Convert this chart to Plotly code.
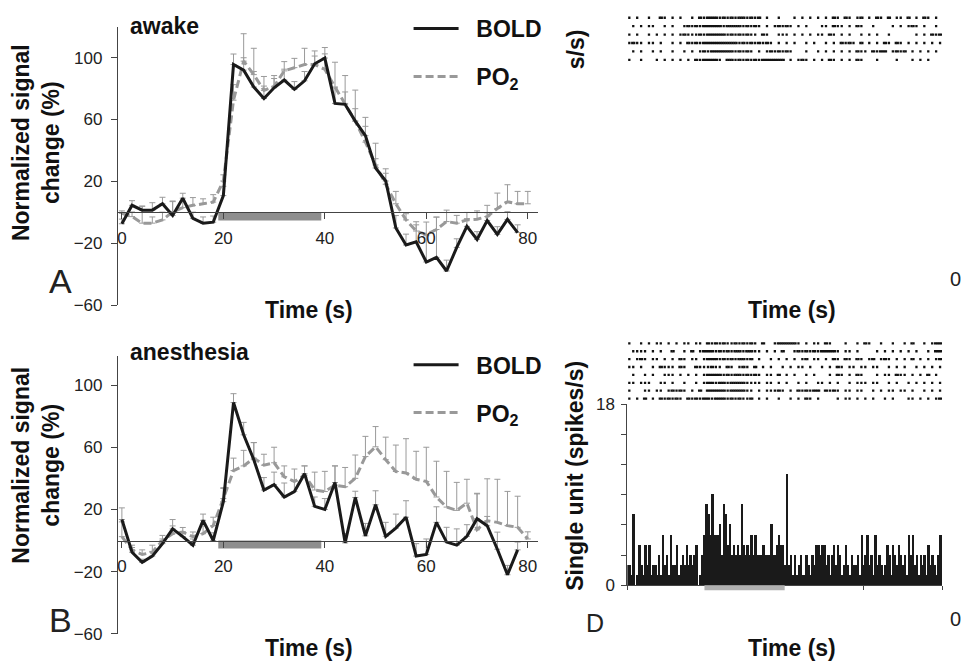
import plotly.graph_objects as go

W, H = 963, 672
FONT = "Liberation Sans"

# ---------------- data ----------------
t_bold = [0, 2, 4, 6, 8, 10, 12, 14, 16, 18, 20, 22, 24, 26, 28, 30, 32, 34, 36, 38,
          40, 42, 44, 46, 48, 50, 52, 54, 56, 58, 60, 62, 64, 66, 68, 70, 72, 74, 76, 78]
t_po2 = t_bold + [80]
tick_vals_time = [0, 20, 40, 60, 80]
tick_vals_signal = [-60, -20, 20, 60, 100]

bold_awake = [-7.3, 4.6, 1.5, 1.5, 5.6, -2, 9.2, -3.8, -6.9, -6.3,
              10.9, 95.5, 91.9, 81, 73.6, 80.5, 85.5, 79.5, 85, 96,
              99.7, 70.4, 69.8, 59, 49.6, 28.7, 20.3, -10, -21, -19,
              -32, -29, -37.8, -22.6, -9, -17.4, -5.2, -14.2, -4.5, -13]
bold_awake_err = [3, 3, 2.5, 4.8, 4.2, 9, 3.2, 4, 4, 4,
                  6, 6.8, 8, 10, 8, 6, 7, 5, 6, 5,
                  6.8, 10, 8, 8, 6, 6, 5, 8, 7, 11,
                  17, 26, 7, 5.6, 5, 5, 5, 5, 5, 5]
po2_awake = [-0.6, -2.7, -6.9, -6.9, -4.8, 0.4, 3.1, 4.6, 5.6, 6.7,
             20.3, 72.5, 97.7, 89, 78.8, 81.4, 91.4, 93.5, 95.5, 95.5,
             92.4, 81, 70.4, 59, 45.4, 30.7, 18.2, 5.6, -4.8, -12,
             -14.2, -11, -5.9, -6.9, -4.8, -4.4, -2.7, 2.5, 6.9, 5.6, 5.6]
po2_awake_err = [1.6, 3, 11, 4, 5, 7, 4, 5, 3.2, 4.8,
                 4, 10, 17.7, 17, 9, 7, 6, 6, 10.5, 8.8,
                 10, 16, 18, 20, 16, 14, 10, 8, 4, 6,
                 8, 8, 7.4, 5, 4.8, 5.4, 7.3, 10, 11, 8, 8]

bold_anes = [13.5, -7.5, -14, -10, -2, 7.5, 2.5, -3, 13, 0,
             25, 88.75, 68, 52, 32.5, 36, 28, 31.5, 43, 22,
             20, 37.3, -1.5, 27.7, 3, 23, 2.7, 8, 15, -10,
             -9, 11.7, -1, -3, 2.7, 14, 9.5, -5.6, -22, -6]
bold_anes_err = [7.5, 3, 2, 3, 3, 6, 3, 4, 4, 5,
                 9, 5.7, 8, 11, 8, 8, 9, 7, 5, 6,
                 7, 10.7, 6, 4, 8, 9, 9, 9, 10.6, 8,
                 10, 10, 9.5, 10.5, 7.5, 16, 6, 11, 6, 5]
po2_anes = [2.5, -6, -9, -7.5, 0, 4.4, 5.4, 2.5, 4.4, 9.6,
            27, 45, 48, 53, 48.5, 50, 41, 38, 42, 32.5,
            31.5, 35.6, 34.6, 40, 54, 60.3, 52, 44.4, 43.5, 39.4,
            38, 28, 21.5, 19.4, 24, 6.9, 12.7, 11.7, 9.6, 8.5, 1]
po2_anes_err = [9.5, 3, 3, 4.5, 3.3, 5, 3, 3, 5, 5.4,
                6.5, 8, 10, 10, 7, 10, 7, 8, 6, 11.5,
                13, 12.4, 12.4, 15, 13, 13, 14.5, 17, 22, 18,
                22, 23, 23, 18, 15.4, 23.5, 27, 27.7, 22, 20, 4.6]

stim_ab = [19, 39.3]          # stimulus bar (s)
stim_ab_depth = 5.2           # bar depth below zero (%)
stim_d = [19.6, 40]
stim_d_depth = 0.5            # spikes/s

# single-unit histogram, 0.5 s bins (spikes/s)
hist_bin = 0.5
hist_vals = [
    2, 2, 1, 7, 0, 1, 4, 2, 1, 4, 2, 4, 1, 2, 2, 1, 3, 1, 5, 2,
    3, 1, 5, 2, 2, 4, 1, 2, 3, 2, 4, 2, 3, 2, 3, 4, 0, 1, 3, 5,
    8, 7, 5, 9, 5, 5, 5, 6, 3, 8, 7, 4, 6, 3, 4, 3, 4, 3, 8, 4,
    3, 4, 3, 5, 3, 5, 3, 3, 3, 4, 3, 3, 3, 6, 3, 3, 4, 5, 4, 4,
    2, 11, 2, 3, 1, 3, 1, 2, 3, 1, 1, 3, 2, 1, 3, 2, 4, 4, 3, 4,
    4, 2, 3, 1, 3, 4, 2, 4, 3, 1, 2, 4, 2, 1, 3, 2, 2, 3, 1, 5,
    2, 3, 5, 2, 3, 1, 5, 2, 3, 2, 1, 2, 4, 3, 1, 4, 3, 2, 4, 3,
    2, 3, 1, 5, 3, 5, 2, 3, 1, 3, 2, 3, 1, 4, 2, 3, 2, 1, 3, 5]
hist_ticks = [0, 3, 6, 9, 12, 15, 18]
hist_ticktext = ["0", "", "", "", "", "", "18"]

# spike rasters: one character per second, digit = spikes in that second
raster_d = [
    "1..1.1.11." "1.1.11.11." "2121211212" "121.2..122" "2221.1.11." "21...1..1." "21..1..1.." "1.2..1.122",
    ".1111.1.1." ".2..1.2.12" "2212121221" "2211.1.1.2" "..12121212" "2221.11.1." "...1.1.1.1" ".1.1..1.22",
    "1.121.11.1" ".1.21.11.1" "2221212122" "12.1..1.1." "1.1.12.11." "1.21.21.21" ".12.121.1." "1.2.1.1.12",
    "11.1..1.21" "11.21..211" "1211.21.12" "1.2.1.1..1" ".1.11.1..1" ".1.21.11.1" "1.11..1.1." "1..1.1.1.1",
    ".1..1.1..1" "11.1.1.1.1" "2222121221" "2121.11.2." "1.1..1.1.." ".1.21.1.21" "...1.11.21" "1.1.1.2.1.",
    "11.111..11" ".1..1..1.1" "2212212222" "1111.11.1." "1..1.1..11" ".1.1..1.11" "1.11..1.1." ".1.1.1.1.1",
    "1...11.11." "12121.1.2." "2222212222" "11.1.11121" ".1.212122." "2121.11.11" "..1.1.11.1" "1.1..1.1.1",
    "1.1.2.1.21" "2121.21212" "2122212121" "12.1.1..1." ".1.1.21.1." "...1.11.1." "1.1..1.1.." ".11.1.1.12",
]
raster_c = [
    "1.1..1..21" ".1.1..1.21" "2221212122" "1212.1..1." "..1.1.1.1." "1.21.21.12" ".1.21.2.11" ".2.1.21.1.",
    ".1.1.11..1" ".1..121212" "2222122221" "2121.1.121" "21.1.1...1" "1.211.1.21" "..1....1.1" ".121.1..1.",
    "1.1..1.1.1" ".1.1211121" "2222212121" "211.21..11" "1.1.1.1.11" ".21.1.1..1" ".1.1..1..." "...1.1.212",
    "1211.11.1." ".1.1.21212" "2222222212" "1212121.1." "1.1..1.1.." "1.1.2121.2" ".1.1.21.21" ".1.1.1.1.1",
    ".1.1..1.1." ".1..1.1.12" "1222222121" "21.1.12121" "21...1..1." "1.1.1.1.21" "1.2122.121" "2.1.1.1.1.",
    "1..1...1.1" ".1.1.1.212" "2221.22121" "2121222222" ".1.121.1.1" ".21.1.1.21" "...1....1." "..1.1.1...",
]


def raster_points(rows):
    xs, ys = [], []
    for r, row in enumerate(rows):
        for sec, ch in enumerate(row):
            if ch.isdigit():
                n = int(ch)
                for k in range(n):
                    xs.append(sec + (k + 0.5) / n)
                    ys.append(r + 1)
    return xs, ys


# ---------------- helpers ----------------
def px_x(p):
    return p / W


def px_y(p):
    return 1 - p / H


def zero_pos(dom, rng):
    return dom[0] + (0 - rng[0]) / (rng[1] - rng[0]) * (dom[1] - dom[0])


GRAY = "#999999"
BLACK = "#1a1a1a"
AXC = "#444444"

fig = go.Figure()

panels = [
    dict(x="x", y="y", legend="legend", bold=bold_awake, bold_err=bold_awake_err,
         po2=po2_awake, po2_err=po2_awake_err),
    dict(x="x2", y="y2", legend="legend2", bold=bold_anes, bold_err=bold_anes_err,
         po2=po2_anes, po2_err=po2_anes_err),
]
for p in panels:
    fig.add_trace(go.Scatter(
        x=t_po2, y=p["po2"], mode="lines", xaxis=p["x"], yaxis=p["y"],
        name="&nbsp;&nbsp;PO<sub>2</sub>", legend=p["legend"], legendrank=2,
        legendgroup=p["x"] + "po2",
        line=dict(color=GRAY, width=3, dash="8px,4px"),
        error_y=dict(type="data", array=p["po2_err"], arrayminus=[0] * len(p["po2_err"]),
                     symmetric=False, color="#9a9a9a", thickness=1, width=3),
    ))
    fig.add_trace(go.Scatter(
        x=t_bold, y=p["bold"], mode="lines", xaxis=p["x"], yaxis=p["y"],
        name="&nbsp;&nbsp;BOLD", legend=p["legend"], legendrank=1,
        legendgroup=p["x"] + "bold",
        line=dict(color=BLACK, width=3),
        error_y=dict(type="data", array=p["bold_err"], arrayminus=[0] * len(p["bold_err"]),
                     symmetric=False, color="#9a9a9a", thickness=1, width=3),
    ))

# histogram
fig.add_trace(go.Bar(
    x=[i * hist_bin + hist_bin / 2 for i in range(len(hist_vals))], y=hist_vals,
    width=hist_bin, marker=dict(color=BLACK, line=dict(width=0)),
    xaxis="x3", yaxis="y3", showlegend=False,
))

# rasters
raster_marker = dict(symbol="square", size=2.3, color="#111111", line=dict(width=0))
xd, yd = raster_points(raster_d)
fig.add_trace(go.Scatter(x=xd, y=yd, mode="markers", xaxis="x4", yaxis="y4",
                         showlegend=False, marker=raster_marker))
xc, yc = raster_points(raster_c)
fig.add_trace(go.Scatter(x=xc, y=yc, mode="markers", xaxis="x5", yaxis="y5",
                         showlegend=False, marker=raster_marker))

# ---------------- axes ----------------
xdom_ab = [px_x(117), px_x(538)]
xrng_ab = [-0.79, 82.1]
ydom_a = [px_y(305), px_y(19)]
yrng_a = [-60, 119.45]
ydom_b = [px_y(643), px_y(357)]
yrng_b = [-60, 118.75]

tickfont = dict(family=FONT, size=17, color="#222222")


def time_axis(dom, anchor_pos):
    return dict(domain=dom, range=xrng_ab, anchor="free", position=anchor_pos,
                showline=True, linecolor=AXC, linewidth=1, ticks="outside", ticklen=6,
                tickcolor=AXC, tickvals=tick_vals_time, tickfont=tickfont,
                ticklabelstandoff=4, showgrid=False, zeroline=False)


def signal_axis(dom, rng, xa):
    return dict(domain=dom, range=rng, anchor=xa, showline=True, linecolor=AXC, linewidth=1,
                ticks="outside", ticklen=6, tickcolor=AXC, tickvals=tick_vals_signal,
                tickfont=tickfont, ticklabelstandoff=5, showgrid=False, zeroline=False)


xdom_d = [px_x(627), px_x(942)]
ydom_d = [px_y(593), px_y(407)]

legend_style = dict(xanchor="left", yanchor="top",
                    font=dict(family=FONT, size=23, weight="bold", color="#111111"),
                    bgcolor="rgba(0,0,0,0)", traceorder="grouped", tracegroupgap=15,
                    itemwidth=45)

fig.update_layout(
    width=W, height=H, margin=dict(l=0, r=0, t=0, b=0),
    paper_bgcolor="white", plot_bgcolor="rgba(0,0,0,0)",
    font=dict(family=FONT, color="#111111"),
    xaxis=time_axis(xdom_ab, zero_pos(ydom_a, yrng_a)),
    yaxis=signal_axis(ydom_a, yrng_a, "x"),
    xaxis2=time_axis(xdom_ab, zero_pos(ydom_b, yrng_b)),
    yaxis2=signal_axis(ydom_b, yrng_b, "x2"),
    xaxis3=dict(domain=xdom_d, range=[0, 80], anchor="y3", showline=True, linecolor=AXC,
                ticks="outside", ticklen=4, tickcolor=AXC, tickvals=[0, 60, 80],
                showticklabels=False, showgrid=False, zeroline=False),
    yaxis3=dict(domain=ydom_d, range=[0, 18], anchor="x3", showline=True, linecolor=AXC,
                ticks="outside", ticklen=5, tickcolor=AXC, tickvals=hist_ticks,
                ticktext=hist_ticktext, tickfont=tickfont, ticklabelstandoff=3,
                showgrid=False, zeroline=False),
    xaxis4=dict(domain=xdom_d, range=[0, 80], anchor="y4", visible=False),
    yaxis4=dict(domain=[px_y(405), px_y(340)], range=[len(raster_d) + 0.5, 0.5],
                anchor="x4", visible=False),
    xaxis5=dict(domain=xdom_d, range=[0, 80], anchor="y5", visible=False),
    yaxis5=dict(domain=[px_y(56.6), px_y(4.7)], range=[len(raster_c) + 0.5, 0.5],
                anchor="x5", visible=False),
    bargap=0,
    legend=dict(x=px_x(408), y=px_y(-2), **legend_style),
    legend2=dict(x=px_x(408), y=px_y(344), **legend_style),
)

# stimulus bars
for xa, ya in (("x", "y"), ("x2", "y2")):
    fig.add_shape(type="rect", xref=xa, yref=ya, x0=stim_ab[0], x1=stim_ab[1],
                  y0=-stim_ab_depth, y1=0, fillcolor="#8e8e8e", line=dict(width=0), layer="below")
fig.add_shape(type="rect", xref="x3", yref="y3 domain", x0=stim_d[0], x1=stim_d[1],
              y0=-stim_d_depth / 18, y1=0, fillcolor="#b0b0b0", line=dict(width=0))


# ---------------- text ----------------
def note(text, x, y, size=23, bold=True, angle=0, color="#111111"):
    fig.add_annotation(text=text, x=px_x(x), y=px_y(y), xref="paper", yref="paper",
                       showarrow=False, textangle=angle, xanchor="center", yanchor="middle",
                       font=dict(family=FONT, size=size, color=color,
                                 weight="bold" if bold else "normal"))


note("awake", 164, 18)
note("anesthesia", 189, 353)
note("Normalized signal<br>change (%)", 35, 137, angle=-90)
note("Normalized signal<br>change (%)", 35, 469, angle=-90)
note("Time (s)", 308, 310)
note("Time (s)", 308, 658)
note("Time (s)", 792, 310)
note("Time (s)", 792, 658)
note("Single unit (spikes/s)", 575, 480, angle=-90)
note("s/s)", 575, 41, angle=-90)
note("A", 60, 280, size=34, bold=False, color="#222222")
note("B", 60, 629, size=34, bold=False, color="#222222")
note("D", 595, 632, size=25, bold=False, color="#222222")
note("0", 955, 278, size=20, bold=False, color="#222222")
note("0", 955, 628, size=20, bold=False, color="#222222")

fig.write_html("out.html")
